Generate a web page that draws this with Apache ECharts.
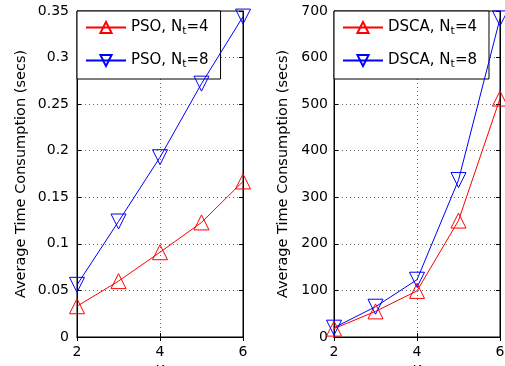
<!DOCTYPE html>
<html>
<head>
<meta charset="utf-8">
<script src="https://cdn.jsdelivr.net/npm/echarts@6/dist/echarts.min.js"></script>
<style>
html,body{margin:0;padding:0;background:#fff;}
#main{width:505px;height:366px;}
</style>
</head>
<body>
<div id="main"></div>
<script>
// data
var xVals = [2, 3, 4, 5, 6];
var psoN4 = [0.033, 0.060, 0.091, 0.123, 0.167];
var psoN8 = [0.056, 0.124, 0.193, 0.272, 0.344];
var dscaN4 = [18, 55, 99, 250, 512];
var dscaN8 = [20, 65, 123, 337, 684];

var font = 'DejaVu Sans';

function pairs(ys){
    var out = [];
    for (var i = 0; i < xVals.length; i++) out.push([xVals[i], ys[i]]);
    return out;
}

function mainX(idx){
    return {
        type: 'value', gridIndex: idx, min: 2, max: 6, interval: 2,
        name: 'K', nameLocation: 'middle', nameGap: 25,
        nameTextStyle: {fontFamily: font, fontSize: 14, color: '#000'},
        axisLine: {lineStyle: {color: '#000', width: 1}},
        axisTick: {inside: true, length: 4, lineStyle: {color: '#000'}},
        axisLabel: {fontFamily: font, fontSize: 14, color: '#000', margin: 8},
        splitLine: {show: true, lineStyle: {color: '#666', type: [1, 3], width: 1}}
    };
}
function mainY(idx, max, step, gap, margin){
    return {
        type: 'value', gridIndex: idx, min: 0, max: max, interval: step,
        name: 'Average Time Consumption (secs)', nameLocation: 'middle', nameGap: gap,
        nameTextStyle: {fontFamily: font, fontSize: 14.5, color: '#000'},
        axisLine: {show: true, lineStyle: {color: '#000', width: 1}},
        axisTick: {show: true, inside: true, length: 4, lineStyle: {color: '#000'}},
        axisLabel: {fontFamily: font, fontSize: 14, color: '#000', margin: margin},
        splitLine: {show: true, lineStyle: {color: '#666', type: [1, 3], width: 1}}
    };
}
// opposite side axes only for the inward ticks
function sideX(idx){
    return {type: 'value', gridIndex: idx, position: 'top', min: 2, max: 6, interval: 2,
        axisLine: {show: true, lineStyle: {color: '#000'}},
        axisTick: {inside: true, length: 4, lineStyle: {color: '#000'}},
        axisLabel: {show: false}, splitLine: {show: false}};
}
function sideY(idx, max, step){
    return {type: 'value', gridIndex: idx, position: 'right', min: 0, max: max, interval: step,
        axisLine: {show: true, lineStyle: {color: '#000'}},
        axisTick: {show: true, inside: true, length: 4, lineStyle: {color: '#000'}},
        axisLabel: {show: false}, splitLine: {show: false}};
}

function line(name, data, color, down, xi, yi){
    return {
        name: name, type: 'line', xAxisIndex: xi, yAxisIndex: yi,
        data: pairs(data), symbol: 'triangle', symbolSize: 15,
        symbolRotate: down ? 180 : 0, showSymbol: true,
        lineStyle: {color: color, width: 1},
        itemStyle: {color: 'rgba(255,255,255,0)', borderColor: color, borderWidth: 1},
        animation: false, z: 5
    };
}

var rich = {sub: {fontFamily: font, fontSize: 11, color: '#000', padding: [8, 0, 0, 0]}};
function legendFmt(n){
    return n.replace('_t', '{sub|t}');
}
function legendBox(names, left){
    return {
        data: names,
        left: left, top: 11, orient: 'vertical',
        itemWidth: 40, itemHeight: 14, itemGap: 16,
        padding: [9, 12, 9, 8],
        backgroundColor: '#fff', borderColor: '#000', borderWidth: 1, borderRadius: 0,
        textStyle: {fontFamily: font, fontSize: 15, color: '#000', rich: rich},
        formatter: legendFmt
    };
}

var myChart = echarts.init(document.getElementById('main'));
var option = {
    backgroundColor: '#fff',
    animation: false,
    grid: [
        {left: 77, top: 11, width: 166, height: 326, outerBoundsMode: 'none', show: true, borderColor: '#000', borderWidth: 1, backgroundColor: 'transparent'},
        {left: 334, top: 11, width: 166, height: 326, outerBoundsMode: 'none', show: true, borderColor: '#000', borderWidth: 1, backgroundColor: 'transparent'}
    ],
    xAxis: [mainX(0), mainX(1), sideX(0), sideX(1)],
    yAxis: [mainY(0, 0.35, 0.05, 48, 8), mainY(1, 700, 100, 43, 6), sideY(0, 0.35, 0.05), sideY(1, 700, 100)],
    legend: [
        legendBox(['PSO, N_t=4', 'PSO, N_t=8'], 77),
        legendBox(['DSCA, N_t=4', 'DSCA, N_t=8'], 334)
    ],
    series: [
        line('PSO, N_t=4', psoN4, '#ff0000', false, 0, 0),
        line('PSO, N_t=8', psoN8, '#0000ff', true, 0, 0),
        line('DSCA, N_t=4', dscaN4, '#ff0000', false, 1, 1),
        line('DSCA, N_t=8', dscaN8, '#0000ff', true, 1, 1)
    ]
};
myChart.setOption(option);
</script>
</body>
</html>
